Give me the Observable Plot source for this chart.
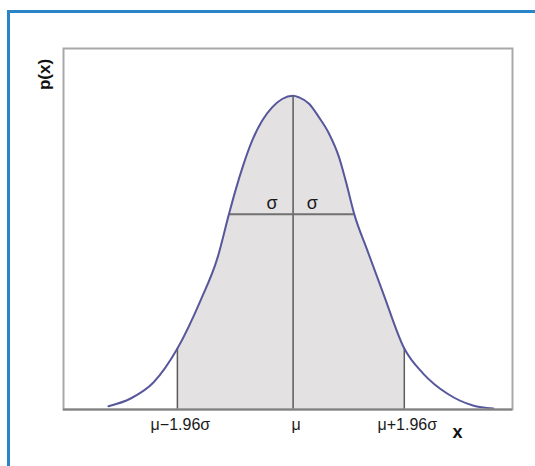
<!DOCTYPE html>
<html>
<head>
<meta charset="utf-8">
<script src="https://cdn.jsdelivr.net/npm/d3@7"></script>
<script src="https://cdn.jsdelivr.net/npm/@observablehq/plot@0.6"></script>
<style>
  html, body { margin: 0; padding: 0; background: #fff; overflow: hidden; }
  #wrap { position: relative; width: 535px; height: 466px; overflow: hidden; }
  #border { position: absolute; left: 7px; top: 10px; width: 700px; height: 700px;
            border: 3px solid #2c84c8; box-sizing: border-box; }
  #chart { position: absolute; left: 0; top: 0; }
</style>
</head>
<body>
<div id="wrap"><div id="border"></div><div id="chart"></div></div>
<script>
// Curve: x in sigma units relative to mu, y as p(x)
const curveX = [-3.08, -2.71, -2.33, -1.93, -1.545, -1.26, -1.07, -0.962, -0.823, -0.683, -0.517, -0.35, -0.183, 0, 0.1, 0.267, 0.433, 0.6, 0.767, 0.877, 1.02, 1.24, 1.505, 1.855, 2.17, 2.57, 3.0, 3.34];
const curveY = [0.0042, 0.014, 0.0343, 0.0775, 0.1385, 0.1931, 0.2484, 0.2783, 0.3126, 0.3418, 0.3672, 0.3841, 0.3948, 0.399, 0.3968, 0.3888, 0.3714, 0.3507, 0.3206, 0.291, 0.2484, 0.202, 0.1474, 0.0775, 0.0457, 0.0203, 0.0051, 0.0013];

// Marked positions (indices into the curve arrays)
const lowerIdx = 3;   // mu - 1.96 sigma
const meanIdx = 13;   // mu
const upperIdx = 23;  // mu + 1.96 sigma
const sigmaLeftIdx = 6;
const sigmaRightIdx = 20;

const tickX = [curveX[lowerIdx], curveX[meanIdx], curveX[upperIdx]];
const tickLabels = ["μ−1.96σ", "μ", "μ+1.96σ"];
const sigmaLabelX = [-0.35, 0.32];
const sigmaLabels = ["σ", "σ"];
const yLabel = "p(x)";
const xLabel = "x";

const curve = curveX.map((x, i) => ({x, y: curveY[i]}));
const shaded = curve.slice(lowerIdx, upperIdx + 1);
const verticals = [lowerIdx, meanIdx, upperIdx].map(i => ({x: curveX[i], y: curveY[i]}));
const sigmaY = curveY[sigmaLeftIdx];
const sigmaLine = [{x1: curveX[sigmaLeftIdx], x2: curveX[sigmaRightIdx], y: sigmaY}];
const sigmaText = sigmaLabelX.map((x, i) => ({x, y: sigmaY, t: sigmaLabels[i]}));

const chart = Plot.plot({
  width: 535,
  height: 466,
  marginLeft: 63,
  marginRight: 23,
  marginTop: 48,
  marginBottom: 57,
  style: {fontFamily: "'Liberation Sans', Arial, sans-serif", background: "transparent"},
  x: {domain: [-3.83, 3.66]},
  y: {domain: [0, 0.459], axis: null},
  marks: [
    Plot.areaY(shaded, {x: "x", y: "y", fill: "#e4e1e3", curve: "monotone-x"}),
    Plot.ruleX(verticals, {x: "x", y1: 0, y2: "y", stroke: "#5a5a5a", strokeWidth: 1.5}),
    Plot.ruleY(sigmaLine, {x1: "x1", x2: "x2", y: "y", stroke: "#707070", strokeWidth: 2}),
    Plot.line(curve, {x: "x", y: "y", stroke: "#57579c", strokeWidth: 2, curve: "monotone-x"}),
    Plot.text(sigmaText, {x: "x", y: "y", text: "t", dy: -11, fontSize: 18, fill: "#1a1a1a"}),
    Plot.frame({stroke: "#a8a8a8", strokeWidth: 2}),
    Plot.ruleY([0], {stroke: "#808080", strokeWidth: 2}),
    Plot.axisX({ticks: tickX, tickFormat: (d, i) => tickLabels[i], tickSize: 0, tickPadding: 9, dx: 3, fontSize: 16, label: null, fill: "#1a1a1a"}),
    Plot.text([yLabel], {frameAnchor: "top-left", textAnchor: "middle", lineAnchor: "middle", rotate: -90, dx: -19, dy: 26, fontSize: 17, fontWeight: "bold", fill: "#111"}),
    Plot.text([xLabel], {frameAnchor: "bottom-right", textAnchor: "middle", lineAnchor: "middle", dx: -55, dy: 23, fontSize: 18, fontWeight: "bold", fill: "#111"})
  ]
});
document.getElementById("chart").appendChild(chart);
</script>
</body>
</html>
